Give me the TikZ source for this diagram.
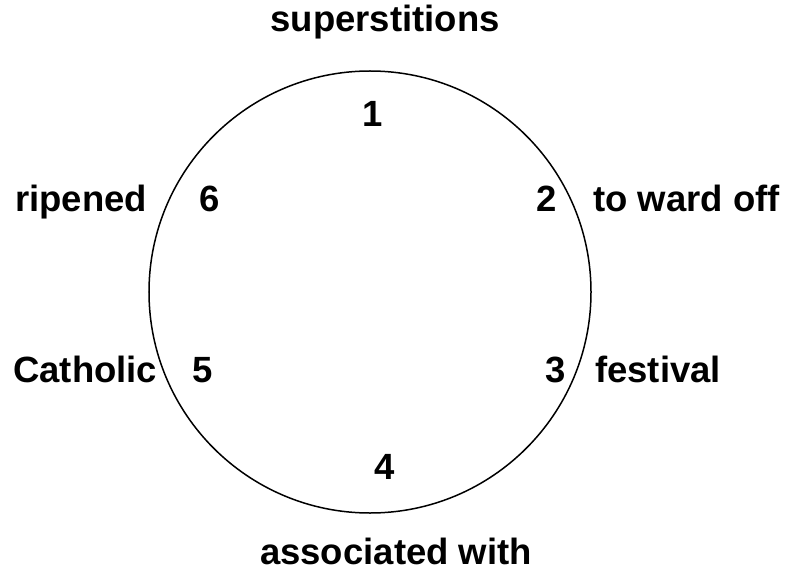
\documentclass[tikz,border=0pt]{standalone}
\usepackage{fontspec}
\setmainfont{Liberation Sans}
\begin{document}
\begin{tikzpicture}[x=1bp,y=-1bp,
  lbl/.style={inner sep=0pt, font=\bfseries\fontsize{36.5bp}{44bp}\selectfont},
  ring/.style={draw, circle, line width=1.5bp, minimum size=442bp, inner sep=0pt}]
\useasboundingbox (0,0) rectangle (794,573);
\node[ring] (c) at (370,292) {};
\node[lbl, anchor=base] (t1) at (385,32) {superstitions};
\node[lbl, anchor=base] (t4) at (396,564) {associated with};
\node[lbl, anchor=base west] (t6) at (15,212) {ripened};
\node[lbl, anchor=base west] (t5) at (13,382) {Catholic};
\node[lbl, anchor=base west] (t2) at (593,212) {to ward off};
\node[lbl, anchor=base west] (t3) at (595,382) {festival};
\node[lbl, anchor=base] (n1) at (373,127) {1};
\node[lbl, anchor=base] (n2) at (547,212) {2};
\node[lbl, anchor=base] (n3) at (556,382) {3};
\node[lbl, anchor=base] (n4) at (385,479) {4};
\node[lbl, anchor=base] (n5) at (203,382) {5};
\node[lbl, anchor=base] (n6) at (210,212) {6};
\end{tikzpicture}
\end{document}
